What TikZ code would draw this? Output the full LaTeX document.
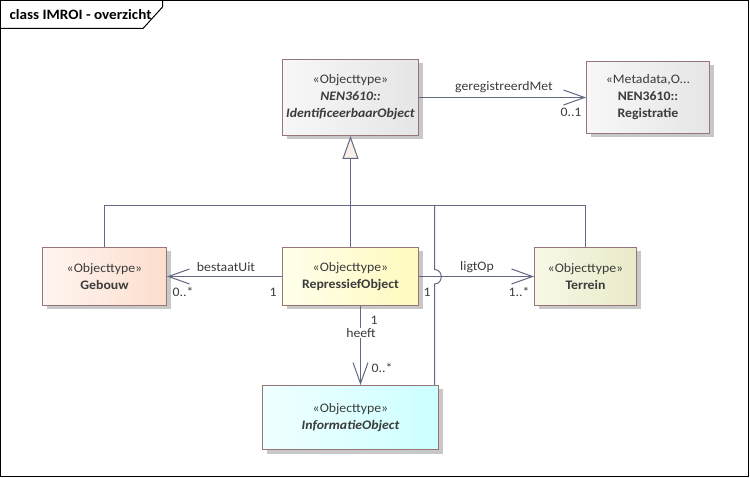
\documentclass[tikz,border=0pt]{standalone}
\usepackage{fontspec}
\setmainfont{Carlito}[FakeStretch=1.06]
\usetikzlibrary{arrows.meta,shadows}
\definecolor{linec}{RGB}{96,104,130}
\definecolor{boxc}{RGB}{150,118,118}
\definecolor{txtc}{RGB}{60,60,60}
\definecolor{shadc}{RGB}{200,200,200}
\begin{document}
\begin{tikzpicture}[x=1pt,y=-1pt,
  every node/.style={font=\fontsize{13}{17}\selectfont, text=txtc},
  box/.style={draw=boxc, line width=1pt, rectangle, inner sep=0pt, align=center,
    shading=axis, shading angle=90,
    drop shadow={shadow xshift=4pt, shadow yshift=-4pt, opacity=1, fill=shadc, draw=none}},
  grey/.style={left color=white!97!black, right color=white!90!black},
  peach/.style={left color={rgb,255:red,255;green,245;blue,240}, right color={rgb,255:red,252;green,222;blue,206}},
  yell/.style={left color={rgb,255:red,255;green,255;blue,235}, right color={rgb,255:red,255;green,250;blue,190}},
  khaki/.style={left color={rgb,255:red,248;green,248;blue,232}, right color={rgb,255:red,234;green,234;blue,200}},
  cyan/.style={left color={rgb,255:red,240;green,255;blue,255}, right color={rgb,255:red,204;green,255;blue,255}},
  conn/.style={draw=linec, line width=1pt},
  barb/.style={-{Straight Barb[length=21pt, width=15pt, line width=1pt]}},
  lbl/.style={inner sep=1pt}
]
\useasboundingbox (0,0) rectangle (750,478);
% frame
\draw[black, line width=1pt] (0.5,0.5) rectangle (748.5,476.5);
\draw[black, line width=1pt] (0.5,28.5) -- (143,28.5) -- (162.5,7) -- (162.5,0.5);
\node[anchor=west, font=\fontsize{14.3}{16}\selectfont\bfseries, text=black] (title) at (6,14.5) {class IMROI - overzicht};

% boxes
\node[box, grey, minimum width=136pt, minimum height=76pt] (Ident) at (350.5,97.5)
  {«Objecttype»\\ \textbf{\textit{NEN3610::}}\\ \textbf{\textit{IdentificeerbaarObject}}};
\node[box, grey, minimum width=123pt, minimum height=72pt] (Reg) at (648,97.5)
  {«Metadata,O...\\ \textbf{NEN3610::}\\ \textbf{Registratie}};
\node[box, peach, minimum width=124pt, minimum height=58pt] (Geb) at (104.5,276.5)
  {«Objecttype»\\ \textbf{Gebouw}};
\node[box, yell, minimum width=136pt, minimum height=58pt] (Rep) at (350.5,276.5)
  {«Objecttype»\\ \textbf{RepressiefObject}};
\node[box, khaki, minimum width=102pt, minimum height=58pt] (Ter) at (585.5,276.5)
  {«Objecttype»\\ \textbf{Terrein}};
\node[box, cyan, minimum width=176pt, minimum height=64pt] (Info) at (350.5,417.5)
  {\raisebox{7pt}{\begin{tabular}{@{}c@{}}«Objecttype»\\[-0.5pt] \textbf{\textit{InformatieObject}}\end{tabular}}};

% generalization tree
\coordinate (gbar) at (350.5,205.5);
\coordinate (ioJoin) at (434.5,205.5);
\draw[conn] (Geb.north) |- (Ter.north |- gbar) -- (Ter.north);
\draw[conn] (Rep.north) -- (Rep.north |- gbar);
\draw[conn, -{Triangle[open, length=23pt, width=16pt, fill={rgb,255:red,250;green,238;blue,232}, line width=1pt]}] (gbar) -- (Ident.south);
\draw[conn] (Info.north -| ioJoin) -- (434.5,284) .. controls (443.5,284) and (443.5,269.5) .. (434.5,269.5) -- (ioJoin);

% associations
\draw[conn, barb] (Ident.east) -- (Reg.west);
\node[lbl] (lgm) at (504,87) {geregistreerdMet};
\node[lbl] (mreg) at (571,112.5) {0..1};

\draw[conn, barb] (Rep.west) -- (Geb.east);
\node[lbl] (lbu) at (226,267) {bestaatUit};
\node[lbl] (mgeb) at (183,292) {0..*};
\node[lbl] (mrep1) at (273,292.5) {1};

\draw[conn, barb] (Rep.east) -- (Ter.west);
\node[lbl] (llo) at (477,267) {ligtOp};
\node[lbl] (mrep2) at (427,292.5) {1};
\node[lbl] (mter) at (519,292) {1..*};

\draw[conn, barb] ([xshift=10pt]Rep.south) -- ([xshift=10pt]Info.north);
\node[lbl, fill=white, inner sep=0.5pt] (lhe) at (361,333) {heeft};
\node[lbl] (mrep3) at (374,320) {1};
\node[lbl] (minf) at (382,367.5) {0..*};
\end{tikzpicture}
\end{document}
